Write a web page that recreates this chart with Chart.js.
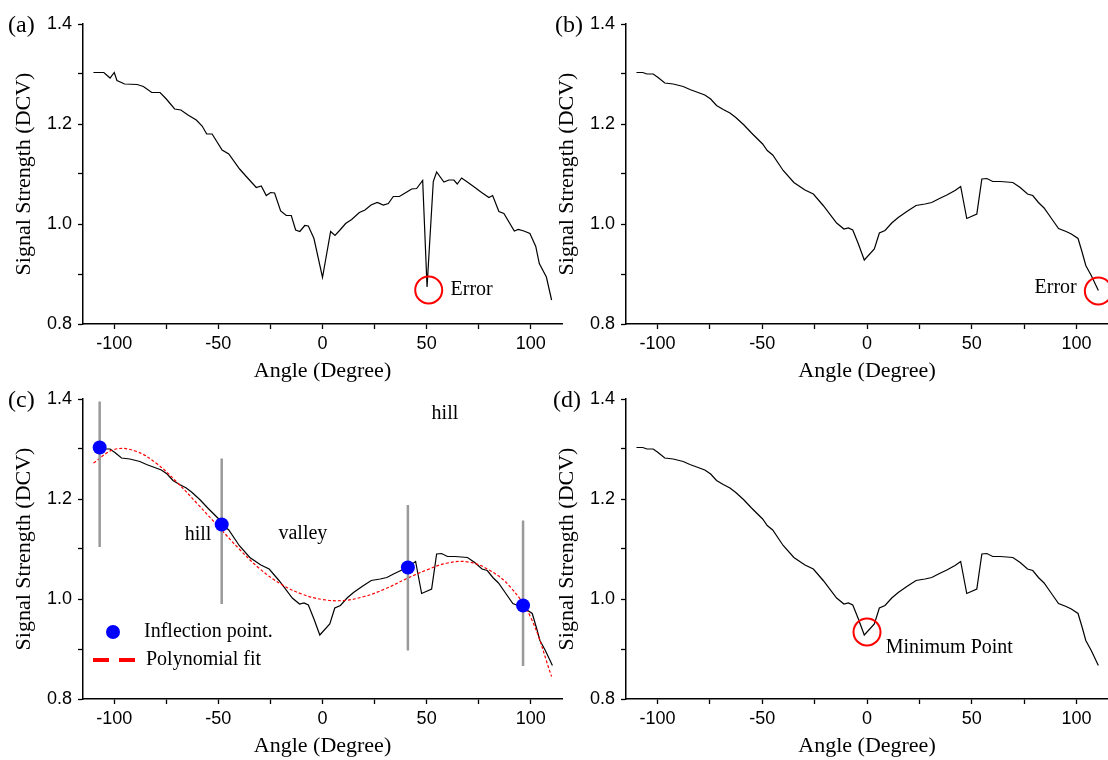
<!DOCTYPE html>
<html>
<head>
<meta charset="utf-8">
<script src="https://cdn.jsdelivr.net/npm/chart.js@4.4.1/dist/chart.umd.min.js"></script>
<style>
body { margin: 0; background: #fff; width: 1108px; height: 760px; overflow: hidden; position: relative; }
.panel { position: absolute; width: 565px; height: 384px; }
</style>
</head>
<body>
<div class="panel" style="left:0;top:0"><canvas id="chart_a"></canvas></div>
<div class="panel" style="left:543px;top:0"><canvas id="chart_b"></canvas></div>
<div class="panel" style="left:0;top:375px"><canvas id="chart_c"></canvas></div>
<div class="panel" style="left:543px;top:375px"><canvas id="chart_d"></canvas></div>
<script>
// raw scan, panel (a)
const rawAngle = [-110, -105, -102, -100, -98.7, -95, -89, -86, -82, -78, -75, -71, -68, -64.6, -60.6, -57.8, -55.6, -53,
    -48.2, -45, -39.8, -36.6, -31.8, -29.4, -27, -24.9, -23, -20.1, -17.4, -15, -12.9, -10.9, -8.5, -6.8, -4.1, 0,
    3.9, 6, 8.4, 11.1, 14, 17.7, 20.4, 23.3, 26.3, 29.2, 31.6, 34, 36.9, 40.1, 42.8, 45.2, 48.1, 50.2, 53.2, 54.8,
    58.3, 60.7, 63.1, 64.7, 66.8, 69.2, 73.2, 76.4, 79.9, 81.7, 84.7, 87.1, 92.1, 94, 96.7, 99.6, 102.4, 104.1, 107.5, 110];
const rawSignal = [1.303, 1.303, 1.292, 1.303, 1.287, 1.280, 1.279, 1.275, 1.263, 1.263, 1.250, 1.230, 1.228, 1.218, 1.208, 1.196, 1.180, 1.180,
    1.148, 1.140, 1.110, 1.095, 1.073, 1.076, 1.057, 1.063, 1.062, 1.026, 1.017, 1.017, 0.988, 0.985, 0.997, 0.996, 0.971, 0.893,
    0.985, 0.977, 0.988, 1.001, 1.009, 1.023, 1.028, 1.038, 1.043, 1.038, 1.041, 1.055, 1.055, 1.063, 1.070, 1.071, 1.087, 0.874, 1.085, 1.104,
    1.084, 1.088, 1.088, 1.080, 1.092, 1.085, 1.073, 1.063, 1.053, 1.057, 1.025, 1.021, 0.986, 0.989, 0.986, 0.981, 0.955, 0.921, 0.894, 0.848];

// corrected scan, panels (b) (c) (d)
const fixAngle = [-110, -107, -105, -102, -99.7, -96.5, -92.5, -87.7, -84.5, -80.6, -77.4, -74.6, -71.8, -68.6, -65.4, -62.6, -58.7, -55.1,
    -49.8, -47.6, -45, -40, -34.9, -29.6, -25.6, -20.9, -14.5, -11, -8.9, -6.8, -4.1, -1.3, 3.5, 5.9, 8.6, 11.8, 14.9, 19,
    23.4, 27.7, 30.9, 34.1, 38.1, 42, 44.7, 47.6, 52.4, 54.8, 57.2, 60, 63.5, 66.7, 69.6, 73.1, 76.6, 79.1, 81.8, 84.5,
    88.2, 91.4, 95, 97.5, 100.7, 102.7, 104.4, 107, 110.4];
const fixSignal = [1.303, 1.303, 1.300, 1.300, 1.293, 1.282, 1.280, 1.275, 1.269, 1.263, 1.258, 1.250, 1.237, 1.229, 1.222, 1.213, 1.198, 1.182,
    1.160, 1.147, 1.138, 1.107, 1.083, 1.068, 1.060, 1.037, 1.002, 0.990, 0.992, 0.988, 0.960, 0.928, 0.950, 0.982, 0.987, 1.002, 1.013, 1.025,
    1.037, 1.040, 1.043, 1.050, 1.058, 1.067, 1.075, 1.011, 1.020, 1.090, 1.091, 1.085, 1.085, 1.084, 1.083, 1.073, 1.060, 1.057, 1.043, 1.032,
    1.010, 0.991, 0.985, 0.980, 0.971, 0.943, 0.917, 0.897, 0.867];

// polynomial fit, panel (c)
const polyAngle = [-110, -100, -90, -80, -70, -60, -50, -40, -30, -20, -10, 0, 10, 20, 30, 40, 50, 60, 70, 80, 90, 100, 110];
const polySignal = [1.272, 1.299, 1.296, 1.272, 1.234, 1.190, 1.145, 1.100, 1.060, 1.030, 1.010, 0.999, 0.997, 1.005, 1.020, 1.040,
    1.058, 1.072, 1.074, 1.058, 1.025, 0.963, 0.845];

// inflection points and their guide bars, panel (c)
const inflAngle = [-107, -48.4, 41, 96.3];
const inflSignal = [1.303, 1.149, 1.063, 0.987];
const barTop = [1.395, 1.281, 1.188, 1.157];
const barBottom = [1.104, 0.990, 0.897, 0.866];

const xTicks = [-100, -75, -50, -25, 0, 25, 50, 75, 100];
const yTicks = [0.8, 0.9, 1.0, 1.1, 1.2, 1.3, 1.4];
const legendLabels = ['Inflection point.', 'Polynomial fit'];

const serif = "'Liberation Serif', 'Times New Roman', serif";
const sans = "'Liberation Sans', Arial, sans-serif";

function pts(xs, ys) {
    return xs.map((x, i) => ({x: x, y: ys[i]}));
}

function curve(xs, ys) {
    return {data: pts(xs, ys), borderColor: '#000', borderWidth: 1.2, pointRadius: 0, tension: 0};
}

function circle(x, y) {
    return {
        data: [{x: x, y: y}], showLine: false, clip: false,
        pointRadius: 13.5, pointBorderWidth: 2, pointBorderColor: '#ff0000', pointBackgroundColor: 'rgba(0,0,0,0)'
    };
}

// texts placed in data units, plus the (a)..(d) tag
const notesPlugin = {
    id: 'notes',
    afterDatasetsDraw(chart, args, opts) {
        const ctx = chart.ctx;
        const xs = chart.scales.x, ys = chart.scales.y;
        ctx.save();
        ctx.fillStyle = '#000';
        ctx.textBaseline = 'middle';
        ctx.font = '20px ' + serif;
        (opts.items || []).forEach(n => {
            ctx.textAlign = n.align || 'center';
            ctx.fillText(n.text, xs.getPixelForValue(n.x), ys.getPixelForValue(n.y));
        });
        if (opts.tag) {
            ctx.font = '24px ' + serif;
            ctx.textAlign = 'left';
            ctx.fillText(opts.tag, opts.tagX, 26);
        }
        ctx.restore();
    }
};

const fitLegend = {
    id: 'fitLegend',
    afterDatasetsDraw(chart, args, opts) {
        if (!opts.show) return;
        const ctx = chart.ctx, a = chart.chartArea;
        ctx.save();
        ctx.fillStyle = '#0000ff';
        ctx.beginPath();
        ctx.arc(a.left + 30, a.top + 233, 7, 0, Math.PI * 2);
        ctx.fill();
        ctx.strokeStyle = '#ff0000';
        ctx.lineWidth = 4;
        ctx.setLineDash([16, 10]);
        ctx.beginPath();
        ctx.moveTo(a.left + 10, a.top + 261);
        ctx.lineTo(a.left + 52, a.top + 261);
        ctx.stroke();
        ctx.fillStyle = '#000';
        ctx.font = '20px ' + serif;
        ctx.textAlign = 'left';
        ctx.textBaseline = 'middle';
        ctx.fillText(legendLabels[0], a.left + 61, a.top + 233);
        ctx.fillText(legendLabels[1], a.left + 63, a.top + 261);
        ctx.restore();
    }
};

function makePanel(id, tag, tagX, padRight, datasets, notes, showLegend) {
    return new Chart(document.getElementById(id), {
        type: 'line',
        data: {datasets: datasets},
        plugins: [notesPlugin, fitLegend],
        options: {
            responsive: true,
            maintainAspectRatio: false,
            animation: false,
            events: [],
            layout: {autoPadding: false, padding: {top: 24, right: padRight, left: 0, bottom: 0}},
            plugins: {
                legend: {display: false},
                tooltip: {enabled: false},
                notes: {items: notes, tag: tag, tagX: tagX},
                fitLegend: {show: showLegend}
            },
            scales: {
                x: {
                    type: 'linear', min: -115, max: 115,
                    afterBuildTicks: s => { s.ticks = xTicks.map(v => ({value: v})); },
                    afterFit: s => { s.height = 60; s.paddingLeft = 0; s.paddingRight = 0; },
                    ticks: {
                        autoSkip: false, maxRotation: 0, padding: 4, color: '#000',
                        font: {family: sans, size: 18},
                        callback: v => (v % 50 === 0 ? String(v) : '')
                    },
                    grid: {drawOnChartArea: false, tickLength: 5, tickWidth: 1.3, color: '#000'},
                    border: {color: '#000', width: 1.5},
                    title: {display: true, text: 'Angle (Degree)', color: '#000', padding: 0,
                        font: {family: serif, size: 22, lineHeight: 1.2}}
                },
                y: {
                    min: 0.8, max: 1.4,
                    afterBuildTicks: s => { s.ticks = yTicks.map(v => ({value: v})); },
                    afterFit: s => { s.width = 83; },
                    ticks: {
                        padding: 6, color: '#000',
                        font: {family: sans, size: 18},
                        callback: v => (Math.round(v * 10) % 2 === 0 ? v.toFixed(1) : '')
                    },
                    grid: {drawOnChartArea: false, tickLength: 5, tickWidth: 1.3, color: '#000'},
                    border: {color: '#000', width: 1.5},
                    title: {display: true, text: 'Signal Strength (DCV)', color: '#000', padding: {top: 11, bottom: 0},
                        font: {family: serif, size: 22, lineHeight: 1.2}}
                }
            }
        }
    });
}

// panel (a)
makePanel('chart_a', '(a)', 8, 3,
    [circle(51, 0.868), curve(rawAngle, rawSignal)],
    [{x: 61.5, y: 0.868, text: 'Error', align: 'left'}], false);

// panel (b)
makePanel('chart_b', '(b)', 12, 0,
    [circle(110.4, 0.866), curve(fixAngle, fixSignal)],
    [{x: 100.1, y: 0.873, text: 'Error', align: 'right'}], false);

// panel (c)
let cSets = [{
    data: pts(inflAngle, inflSignal), showLine: false,
    pointRadius: 7, pointBackgroundColor: '#0000ff', pointBorderColor: '#0000ff', pointBorderWidth: 0
}];
inflAngle.forEach((a, i) => {
    cSets.push({
        data: [{x: a, y: barTop[i]}, {x: a, y: barBottom[i]}],
        borderColor: '#9a9a9a', borderWidth: 2.5, pointRadius: 0
    });
});
cSets.push({
    data: pts(polyAngle, polySignal), borderColor: '#ff0000', borderWidth: 1.2,
    borderDash: [3, 2], pointRadius: 0, tension: 0.4, clip: false
});
cSets.push(curve(fixAngle, fixSignal));
makePanel('chart_c', '(c)', 8, 3, cSets, [
    {x: 58.8, y: 1.37, text: 'hill'},
    {x: -59.8, y: 1.128, text: 'hill'},
    {x: -9.4, y: 1.13, text: 'valley'}
], true);

// panel (d)
makePanel('chart_d', '(d)', 10, 0,
    [circle(0, 0.934), curve(fixAngle, fixSignal)],
    [{x: 8.9, y: 0.903, text: 'Minimum Point', align: 'left'}], false);
</script>
</body>
</html>
